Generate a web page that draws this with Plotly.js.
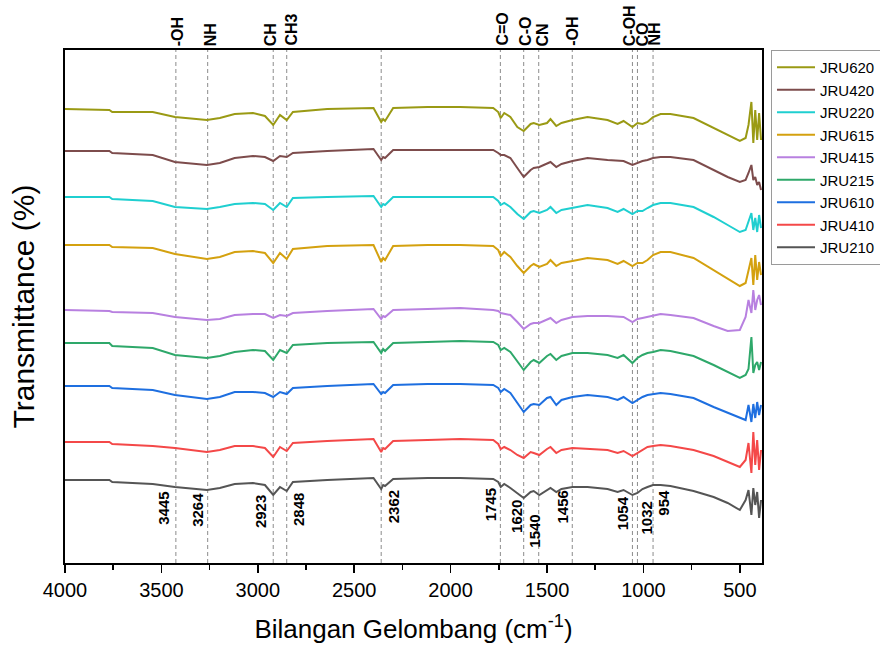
<!DOCTYPE html>
<html><head><meta charset="utf-8">
<script src="https://cdn.plot.ly/plotly-3.0.1.min.js"></script>
<style>html,body{margin:0;padding:0;background:#fff;}#chart{width:880px;height:649px;}</style>
</head><body><div id="chart"></div>
<script>
// Wavenumber grid (cm^-1)
const wavenumber = [4000,3770,3755,3545,3430,3264,3197,3120,3025,2963,2920,2885,2850,2818,2640,2400,2360,2350,2340,2298,2120,1950,1779,1753,1740,1722,1690,1654,1621,1585,1569,1540,1500,1482,1452,1425,1368,1290,1186,1134,1103,1057,1031,1005,979,950,911,860,740,636,563,500,470,455,440,430,420,410,400,390];

// Offset transmittance values (arbitrary units) for each sample
const JRU620 = [454,453,451,451,446,443,445,449,450,447,438,448,443,451,454,455,441,444,442,455,456,456,455,451,445,450,446,436,432,439,440,438,440,444,437,440,443,446,443,439,442,436,440,439,441,446,449,449,445,435,428,422,425,438,461,420,453,423,450,423];
const JRU420 = [412,412,410,408,401,398,400,405,407,406,402,407,406,410,412,414,403,406,405,413,413,413,413,410,408,408,405,395,386,393,395,396,400,401,396,399,402,405,403,402,402,398,400,402,403,405,406,406,403,393,386,381,383,390,398,383,386,378,381,373];
const JRU220 = [366,366,364,362,356,354,356,359,360,359,353,360,356,365,366,367,356,359,358,366,366,366,366,362,358,360,356,349,344,351,352,350,353,356,350,353,355,358,355,351,354,349,352,352,355,358,360,360,356,346,338,331,333,341,350,333,345,331,348,335];
const JRU615 = [318,318,316,315,309,304,306,311,312,310,300,310,304,314,317,318,301,305,303,317,318,318,317,313,307,311,306,297,290,297,299,296,299,303,297,300,302,305,303,299,302,297,300,300,303,308,311,311,305,293,285,277,280,293,305,278,308,283,301,288];
const JRU415 = [253,252,251,250,246,243,244,248,249,249,245,248,247,250,252,254,244,247,246,253,254,255,253,252,250,249,248,241,234,239,240,240,244,245,240,243,246,247,247,246,246,241,244,245,246,247,249,248,245,237,232,233,246,263,250,273,253,263,268,258];
const JRU215 = [220,220,217,215,208,205,207,211,213,212,203,213,210,218,220,221,210,214,212,220,221,222,221,218,213,215,211,201,193,201,203,200,207,209,203,207,210,210,208,205,208,200,205,208,210,211,213,212,207,198,191,185,188,194,226,190,198,201,193,201];
const JRU610 = [177,177,175,173,168,164,166,171,171,170,166,171,169,175,177,179,169,171,170,178,179,179,178,175,171,174,170,160,151,158,159,158,165,166,158,163,166,168,166,163,166,160,163,166,168,169,170,169,165,156,150,145,143,158,141,159,145,161,148,158];
const JRU410 = [121,121,119,117,115,111,113,117,117,115,106,116,112,120,122,124,111,115,114,122,123,124,123,119,114,116,113,108,105,111,110,108,114,116,110,113,115,114,113,110,112,107,110,113,116,117,118,117,113,107,101,96,103,120,90,131,98,123,93,113];
const JRU210 = [83,83,81,79,76,73,75,79,80,78,68,76,72,81,83,85,74,78,77,84,85,85,84,81,76,79,75,70,65,71,72,68,73,75,71,74,76,76,74,71,73,68,70,74,76,78,78,77,72,66,60,53,63,73,48,75,58,71,45,63];

const seriesNames = ["JRU620","JRU420","JRU220","JRU615","JRU415","JRU215","JRU610","JRU410","JRU210"];
const seriesValues = [JRU620,JRU420,JRU220,JRU615,JRU415,JRU215,JRU610,JRU410,JRU210];

// Assigned band positions (dashed reference lines) and labels
const bandLines = [3425,3260,2920,2850,2360,1742,1621,1543,1369,1057,1031,950];
const groupLabels = ["-OH","NH","CH","CH3","C=O","C-O","CN","-OH","C-OH","CO","NH"];
const peakLabels = ["3445","3264","2923","2848","2362","1745","1620","1540","1456","1054","1032","954"];

// styling / placement
const colors = ["#9a9a14","#7d4c4c","#1fcfd0","#d4a10f","#b880e0","#2ea86a","#1e6fe0","#f44848","#555555"];
const groupLabelX = [3415,3244,2933,2830,1733,1612,1521,1369,1071,1005,945];
const peakLabelX = [3493,3317,2989,2792,2298,1794,1655,1565,1420,1108,983,895];
const peakLabelY = [0.107,0.103,0.101,0.105,0.109,0.113,0.09,0.062,0.109,0.096,0.088,0.117];

const traces = seriesNames.map((n,i)=>({
  x: wavenumber, y: seriesValues[i], type:'scatter', mode:'lines', name:n,
  line:{color:colors[i], width:2}
}));

const shapes = bandLines.map(v=>({type:'line', xref:'x', yref:'paper', x0:v, x1:v, y0:0, y1:1,
  line:{color:'#8c8c8c', width:1, dash:'4px,3px'}, layer:'below'}));

const annotations = [];
groupLabels.forEach((t,i)=>annotations.push({text:'<b>'+t+'</b>', x:groupLabelX[i], xref:'x', y:1, yref:'paper',
  yanchor:'bottom', xanchor:'center', yshift:2, textangle:-90, showarrow:false,
  font:{family:'Arial, Liberation Sans, sans-serif', size:16, color:'#000'}}));
peakLabels.forEach((t,i)=>annotations.push({text:'<b>'+t+'</b>', x:peakLabelX[i], xref:'x', y:peakLabelY[i], yref:'paper',
  yanchor:'middle', xanchor:'center', textangle:-90, showarrow:false,
  font:{family:'Arial, Liberation Sans, sans-serif', size:15, color:'#000'}}));

const layout = {
  width:880, height:649,
  margin:{l:65, r:118, t:50, b:86, autoexpand:false},
  paper_bgcolor:'#fff', plot_bgcolor:'#fff',
  font:{family:'Arial, Liberation Sans, sans-serif', color:'#000'},
  showlegend:true,
  legend:{x:1.0129, xanchor:'left', y:1, yanchor:'top', bordercolor:'#9a9a9a', borderwidth:1,
    itemwidth:38,
    font:{size:15, family:'Arial, Liberation Sans, sans-serif'}, tracegroupgap:0, traceorder:'normal'},
  xaxis:{range:[4000,385], showgrid:false, zeroline:false, showline:true, linecolor:'#000', linewidth:2, mirror:true,
    ticks:'outside', ticklen:8, tickwidth:1.5, tickcolor:'#000', dtick:500, tick0:0,
    tickfont:{size:20}, minor:{dtick:250, ticks:'outside', ticklen:5, tickwidth:1.5, tickcolor:'#000'},
    title:{text:'Bilangan Gelombang (cm<sup>-1</sup>)', font:{size:26}, standoff:20}},
  yaxis:{range:[0,513], showgrid:false, zeroline:false, showline:true, linecolor:'#000', linewidth:2, mirror:true,
    showticklabels:false, ticks:'', title:{text:'Transmittance (%)', font:{size:30}, standoff:20}},
  shapes:shapes, annotations:annotations
};
Plotly.newPlot('chart', traces, layout, {displayModeBar:false, staticPlot:true});
</script></body></html>
